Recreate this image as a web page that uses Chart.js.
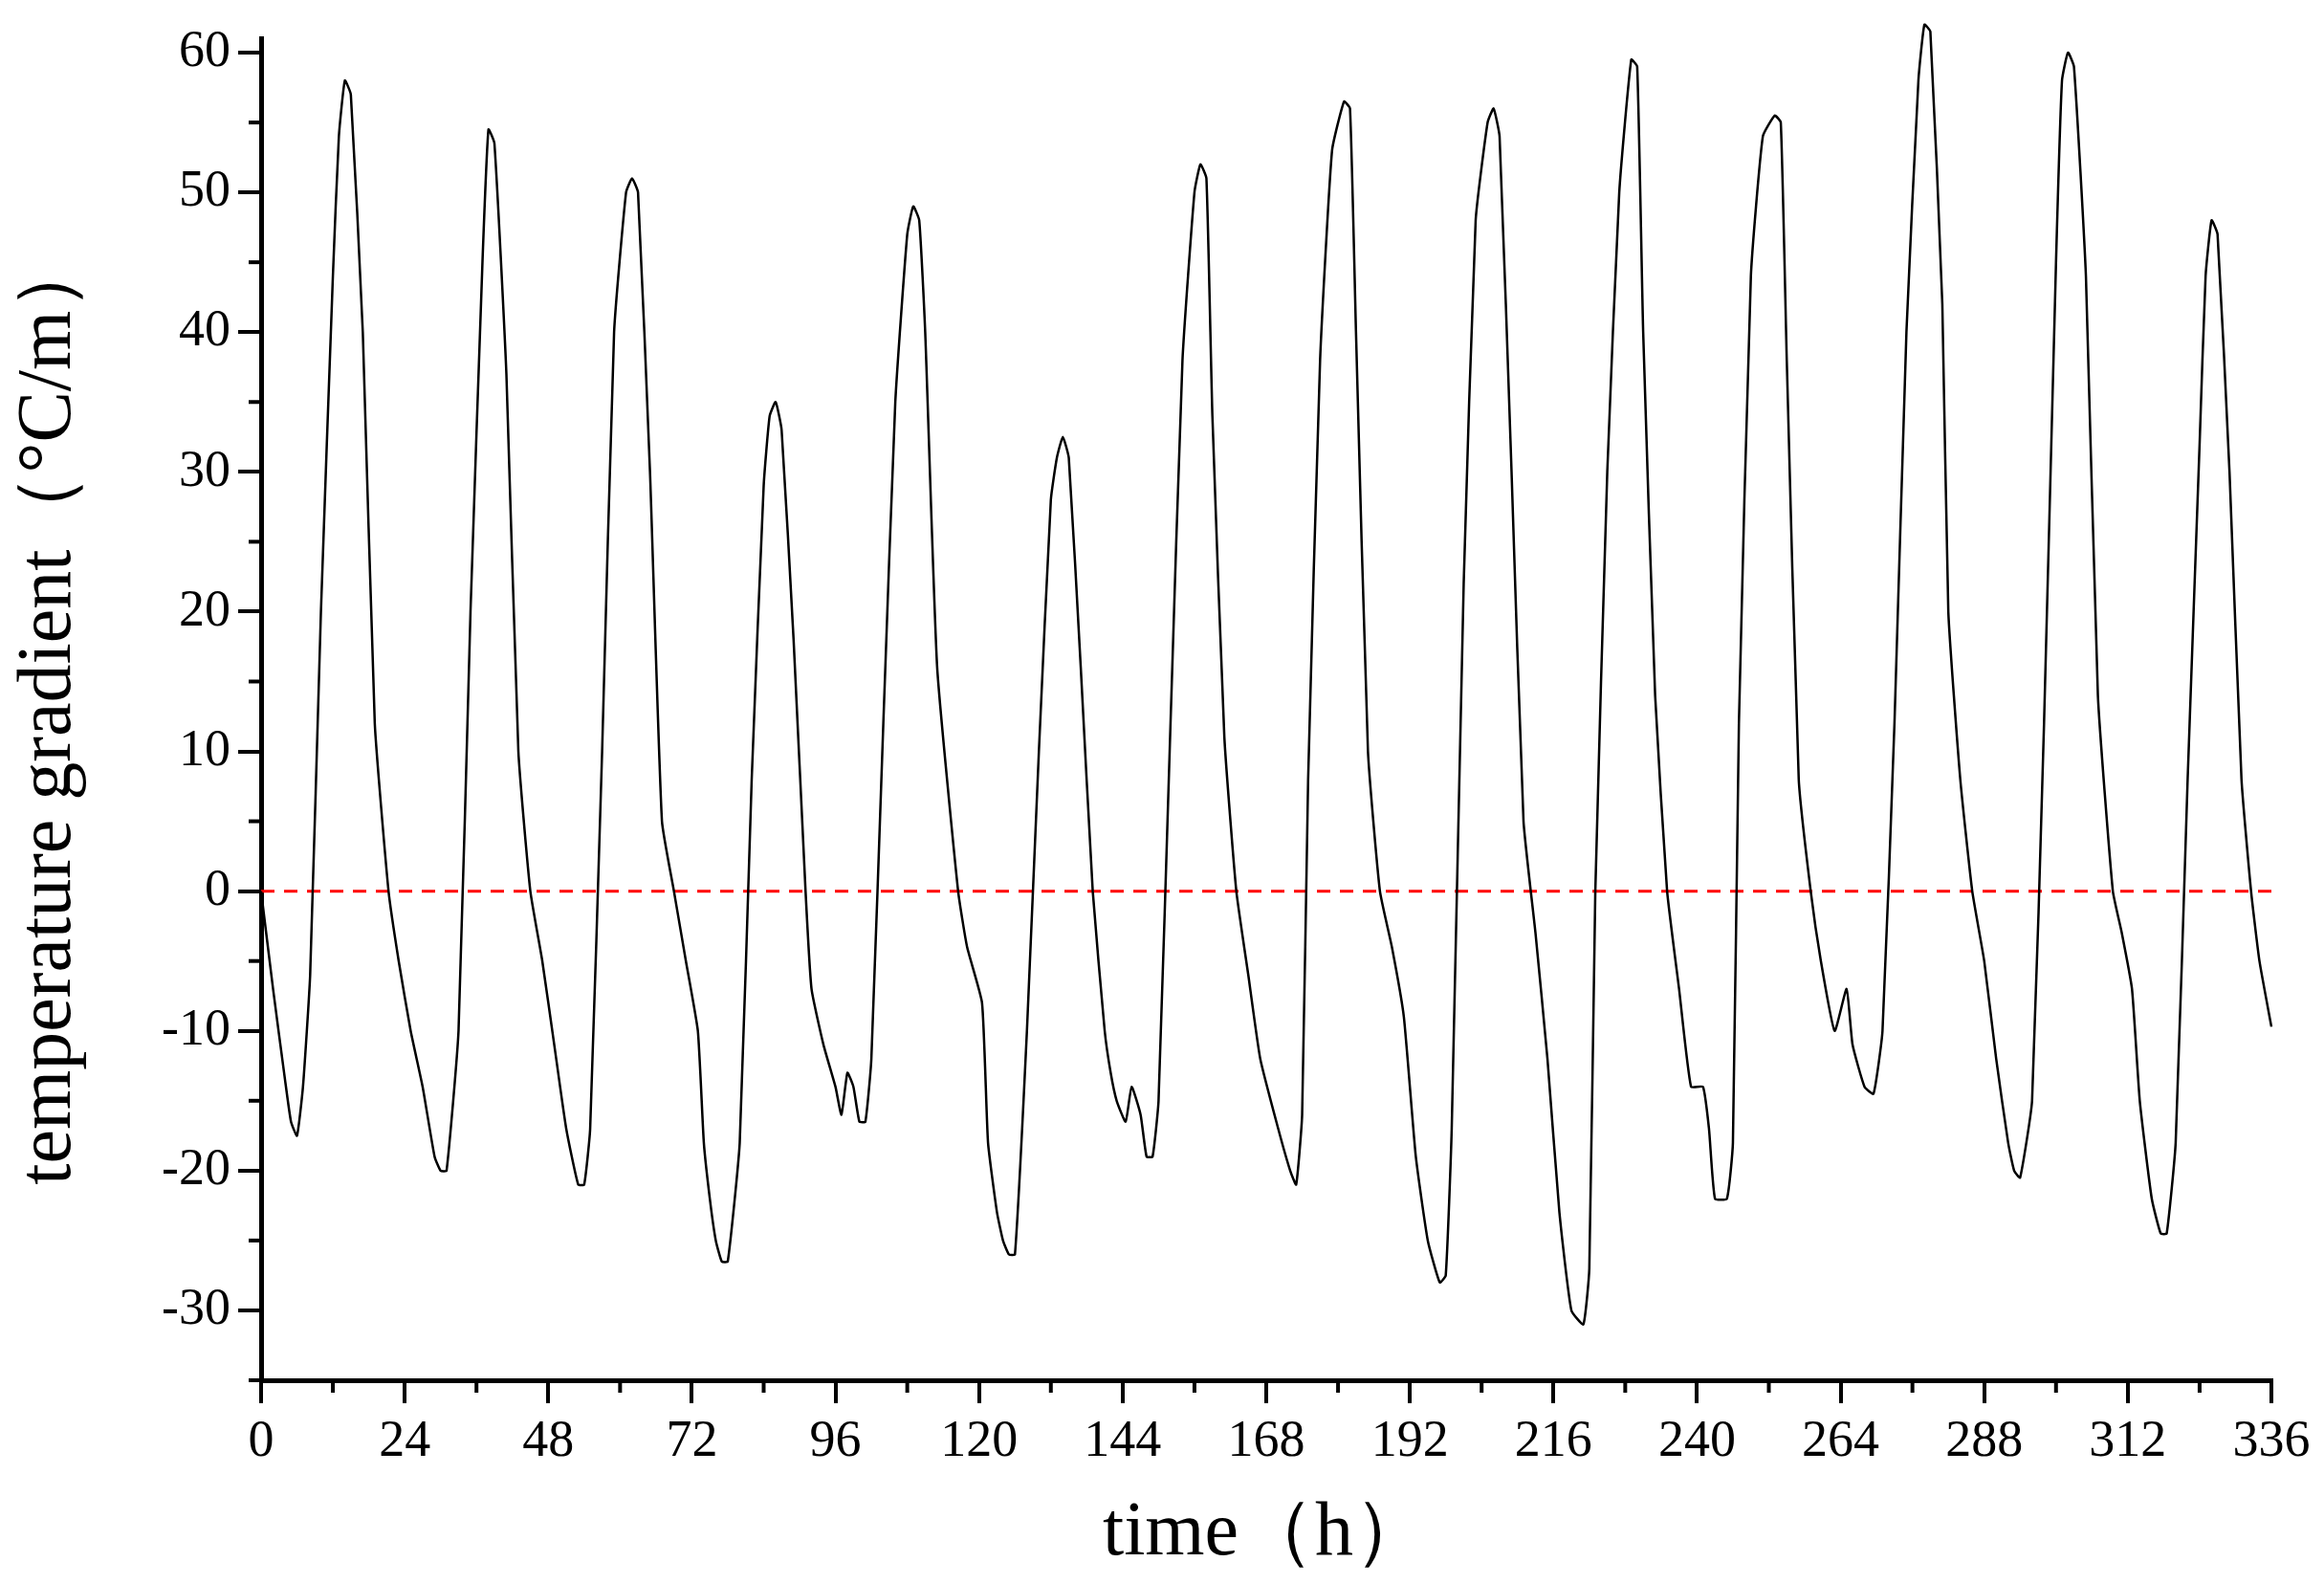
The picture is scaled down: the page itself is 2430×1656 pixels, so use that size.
<!DOCTYPE html>
<html><head><meta charset="utf-8">
<script src="https://cdn.jsdelivr.net/npm/chart.js@4.4.0/dist/chart.umd.min.js"></script>
<style>html,body{margin:0;background:#fff}canvas{display:block}</style>
</head><body>
<canvas id="c" width="2430" height="1656"></canvas>
<script>
/* ---------- data (hours, °C/m) ---------- */
const hours = [0,2,4,5,6,7,8.2,10,12,13,14,15,17,19,21.3,23,25,27,29,30,31,33,35,37,38,39,41,43,45,47,49,51,53,54,55,57,59,61,62,63,65,67,69,71,73,74,75,76,77,78,80,82,84,85,86,87,89,91,92,94,96,97,98,99,100,101,102,104,106,108,109,110,111,113,116.5,118,120.5,121.5,123,124,125,126,128,130,132,133,134,135,137,139,141,142,143,144.5,145.5,147,148,149,150,152,154,156,157,158,159,161,163,165,167,170,172,173,174,175,177,179,181,182,183,185,187,189,191,193,195,197,198,199,201,203,205,206,207,209,211,213,215,217,219,221,222,223,225,227,229,230,231,233,235,237,239,241,242,243,245,246,247,249,251,253,254,255,257,259,260.7,263,265,266,268,269.5,271,273,275,277,278,279,281,282,284,286,288,290,292,293,294,296,298,300,301,302,303,305,307,309.5,311,312.7,314,316,317.5,318.5,320,322,324,325,326,327,329,331,332.6,334,336];
const grad  = [0,-7,-13.5,-16.5,-17.5,-14,-6,20,44,54,58,57,40,12,0,-5,-10,-14,-19,-20,-20,-10,20,45,54.5,53.5,37,10,0,-5,-11,-17,-21,-21,-17,10,40,50,51,50,30,5,0,-5,-10,-18,-22,-25,-26.5,-26.5,-18,8,29,34,35,33,18,0,-7,-11,-14,-16,-13,-14,-16.5,-16.5,-12,12,35,47,49,48,40,16,0,-4,-8,-18,-23,-25,-26,-26,-10,10,28,31,32.5,31,16,0,-10,-13,-15,-16.5,-14,-16,-19,-19,-15,12,38,50,52,51,34,11,0,-6,-12,-17,-20,-21,-16,8,38,53,56.5,56,40,10,0,-4,-9,-19,-25,-28,-27.5,-17,22,48,55,56,54,30,5,-3,-12,-23,-30,-31,-27,0,30,50,59.5,59,40,14,0,-7,-14,-14,-17,-22,-22,-18,12,44,54,55.5,55,38,8,0,-5,-10,-7,-11,-14,-14.5,-10,12,40,58,62,61.5,42,20,8,0,-5,-12,-18,-20,-20.5,-15,12,45,58,60,59,44,14,0,-3,-7,-15,-22,-24.5,-24.5,-18,8,32,44,48,47,30,8,0,-5,-9.7];
const xTicks = [0,24,48,72,96,120,144,168,192,216,240,264,288,312,336];
const yTicks = [-30,-20,-10,0,10,20,30,40,50,60];

const points = hours.map((h,i)=>({x:h,y:grad[i]}));
const FONT = '"Liberation Serif","DejaVu Serif",serif';

/* minor ticks (halfway between majors) */
const minorTicks = {
  id:'minorTicks',
  afterDraw(chart){
    const {ctx, scales:{x,y}} = chart;
    ctx.save(); ctx.strokeStyle='#000'; ctx.lineWidth=4;
    for(let v=12; v<336; v+=24){
      const px=x.getPixelForValue(v);
      ctx.beginPath(); ctx.moveTo(px,x.top); ctx.lineTo(px,x.top+13); ctx.stroke();
    }
    for(let v=-35; v<=60; v+=10){
      const py=y.getPixelForValue(v);
      ctx.beginPath(); ctx.moveTo(y.right,py); ctx.lineTo(y.right-13,py); ctx.stroke();
    }
    ctx.restore();
  }
};

new Chart(document.getElementById('c'), {
  type:'line',
  data:{ datasets:[
    { data:points, borderColor:'#000', borderWidth:2.5, pointRadius:0, tension:0.15, clip:false },
    { data:[{x:0,y:0},{x:336,y:0}], borderColor:'#ff0000', borderWidth:3, borderDash:[14,10], pointRadius:0 }
  ]},
  options:{
    responsive:false, animation:false,
    layout:{ padding:{ left:0, right:55, top:0, bottom:0 } },
    plugins:{ legend:{display:false}, tooltip:{enabled:false} },
    scales:{
      x:{
        type:'linear', min:0, max:336,
        afterBuildTicks: s => { s.ticks = xTicks.map(v=>({value:v})); },
        afterFit: s => { s.height = 1656-1443; },
        border:{ color:'#000', width:5 },
        grid:{ drawOnChartArea:false, color:'#000', lineWidth:4, tickLength:24 },
        ticks:{ color:'#000', font:{family:FONT,size:54}, maxRotation:0, padding:8 },
        title:{ display:true, text:'time（h）', color:'#000', font:{family:FONT,size:80}, padding:{top:0} }
      },
      y:{
        min:-35, max:61,
        afterBuildTicks: s => { s.ticks = yTicks.map(v=>({value:v})); },
        afterFit: s => { s.width = 273; },
        border:{ color:'#000', width:5 },
        grid:{ drawOnChartArea:false, color:'#000', lineWidth:4, tickLength:24 },
        ticks:{ color:'#000', font:{family:FONT,size:54}, padding:8 },
        title:{ display:true, text:'temperature gradient（°C/m）', color:'#000', font:{family:FONT,size:80}, padding:{bottom:10} }
      }
    }
  },
  plugins:[minorTicks]
});
</script>
</body></html>
